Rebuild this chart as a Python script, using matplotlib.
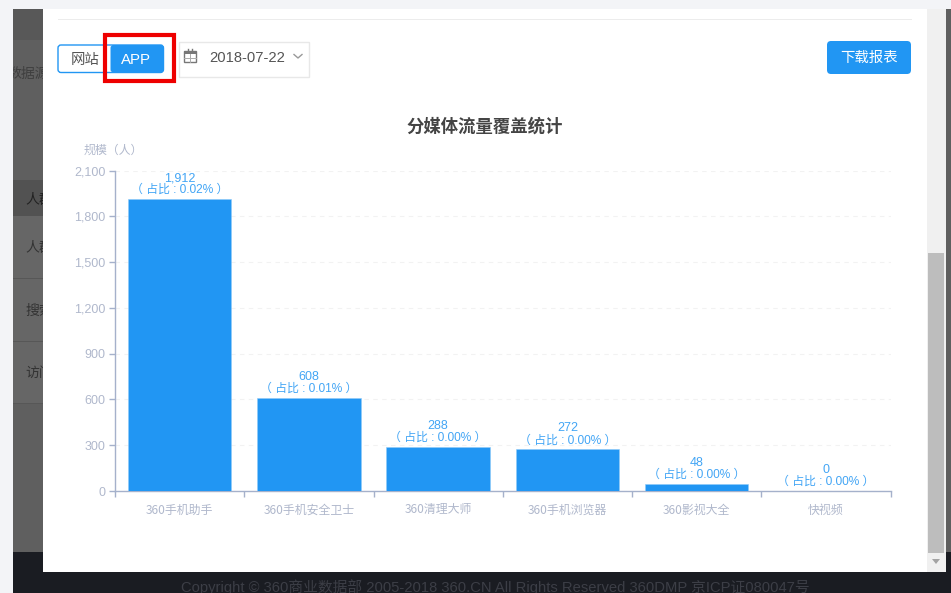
import matplotlib
matplotlib.use('Agg')
import matplotlib.pyplot as plt
from matplotlib.patches import Rectangle, FancyBboxPatch, Polygon

plt.rcParams['font.family'] = ['Noto Sans CJK SC', 'DejaVu Sans']

# data
categories = ['360手机助手', '360手机安全卫士', '360清理大师', '360手机浏览器', '360影视大全', '快视频']
values = [1912, 608, 288, 272, 48, 0]
shares = ['0.02%', '0.01%', '0.00%', '0.00%', '0.00%', '0.00%']
y_ticks = [0, 300, 600, 900, 1200, 1500, 1800, 2100]

W, H = 951, 593
BLUE = '#2196f3'
LABEL = '#42a5f5'
AXIS = '#a5b1cb'
TICK_TXT = '#b0b8cc'
LATIN_CJK = ['Liberation Sans', 'Noto Sans CJK SC']

fig = plt.figure(figsize=(W / 100, H / 100), dpi=100, facecolor='#f3f4f7')

# page behind the dialog, in pixel coordinates
bg = fig.add_axes([0, 0, 1, 1], zorder=0)
bg.set_xlim(0, W)
bg.set_ylim(H, 0)
bg.axis('off')


def box(x0, y0, x1, y1, color, z=1, **kw):
    bg.add_patch(Rectangle((x0, y0), x1 - x0, y1 - y0, facecolor=color, edgecolor='none', zorder=z, **kw))


def rbox(x0, y0, x1, y1, face, edge='none', z=5, r=3):
    bg.add_patch(FancyBboxPatch((x0 + r, y0 + r), x1 - x0 - 2 * r, y1 - y0 - 2 * r,
                                boxstyle='round,pad=%d' % r, facecolor=face, edgecolor=edge, linewidth=1, zorder=z))


# dimmed page strips
box(13, 9, 951, 552, '#5f5f5f')
box(13, 180, 43, 216, '#525252')
box(13, 216, 43, 403, '#666666')
box(13, 552, 951, 593, '#1a1c22')
box(13, 9, 43, 40, '#585858')
for yy in (278, 341, 403):
    box(13, yy, 43, yy + 1, '#575757', z=2)
for txt, yy, xx, col in [('数据源', 74, 7, '#3f3f3f'), ('人群', 200, 25, '#222222'), ('人群', 248, 25, '#333333'),
                         ('搜索', 311, 25, '#333333'), ('访问', 373, 25, '#333333')]:
    bg.text(xx, yy, txt, fontsize=10, color=col, va='center', ha='left', zorder=2)
box(0, 0, 13, H, '#f3f4f7', z=3)
bg.text(181, 587.5, 'Copyright © 360商业数据部 2005-2018 360.CN All Rights Reserved 360DMP 京ICP证080047号',
        fontsize=10.6, color='#3c3e46', va='center', ha='left', zorder=2, family=LATIN_CJK)

# dialog and scrollbar
box(43, 9, 927, 572, 'white', z=4)
box(927, 9, 946, 572, '#f0f0f0', z=4)
box(928, 253, 944, 553, '#bdbdbd', z=5)
bg.add_patch(Polygon([[932, 559], [940, 559], [936, 564]], facecolor='#a3a3a3', edgecolor='none', zorder=5))
box(58, 19, 912, 20, '#ececec', z=5)

# toolbar
rbox(58, 45, 163.5, 72.5, 'white', edge=BLUE)
rbox(110.5, 45, 163.5, 72.5, BLUE)
bg.text(85.5, 60, '网站', fontsize=10.4, color='#555555', ha='center', va='center', zorder=6)
bg.text(136, 59.5, 'APP', fontsize=10.8, color='white', ha='center', va='center', zorder=6, family=LATIN_CJK)
bg.add_patch(Rectangle((105, 35), 69, 46, facecolor='none', edgecolor='#ee0000', linewidth=3, zorder=7))
bg.add_patch(Rectangle((178.5, 41.5), 130, 35, facecolor='white', edgecolor='#e8e8e8', linewidth=1, zorder=5))
# calendar icon has no glyph in the installed fonts, so it is a small shape
bg.add_patch(Rectangle((184, 51), 12, 11, facecolor='none', edgecolor='#777777', linewidth=1, zorder=6))
box(184, 51, 196, 54, '#777777', z=6)
bg.plot([188, 188], [49, 52], color='#777777', linewidth=1, zorder=6)
bg.plot([192, 192], [49, 52], color='#777777', linewidth=1, zorder=6)
bg.plot([184, 196], [57.5, 57.5], color='#aaaaaa', linewidth=0.7, zorder=6)
bg.plot([190, 190], [54, 62], color='#aaaaaa', linewidth=0.7, zorder=6)
bg.text(247, 58.5, '2018-07-22', fontsize=10.6, color='#555555', ha='center', va='center', zorder=6,
        family=LATIN_CJK)
bg.plot([294, 298, 302], [54.5, 58, 54.5], color='#999999', linewidth=1, zorder=6)
rbox(827, 41, 911, 74, BLUE, r=4)
bg.text(869, 58, '下载报表', fontsize=10.4, color='white', ha='center', va='center', zorder=6)

# title and unit
bg.text(485, 126.5, '分媒体流量覆盖统计', fontsize=12.5, fontweight='bold', color='#444444', ha='center', va='center', zorder=6)
bg.text(113.5, 150.5, '规模（人）', fontsize=8.6, color=TICK_TXT, ha='center', va='center', zorder=6)

# the chart
ax = fig.add_axes([115 / W, 1 - 491 / H, 775.5 / W, 320.5 / H], zorder=2)
ax.patch.set_alpha(0)
x = list(range(len(categories)))
ax.bar(x, values, width=0.8, color=BLUE, edgecolor='#90caf9', linewidth=0.4, zorder=3)
ax.set_xlim(-0.5, 5.5)
ax.set_ylim(0, 2100)
ax.set_yticks(y_ticks)
ax.set_yticklabels(['{:,}'.format(v) for v in y_ticks], family=LATIN_CJK)
ax.set_xticks(x)
ax.set_xticklabels(categories)
ax.set_xticks([i - 0.5 for i in range(len(categories) + 1)], minor=True)
ax.tick_params(axis='x', which='major', length=0, pad=9, labelsize=8.6, labelcolor=TICK_TXT)
ax.tick_params(axis='x', which='minor', length=4, width=1, color=AXIS)
ax.tick_params(axis='y', length=4, width=1, color=AXIS, pad=3, labelsize=9, labelcolor=TICK_TXT)
ax.grid(axis='y', color='#f2f2f2', linestyle=(0, (4, 4)), linewidth=0.8, zorder=0)
for side in ('top', 'right'):
    ax.spines[side].set_visible(False)
for side in ('left', 'bottom'):
    ax.spines[side].set_color(AXIS)
    ax.spines[side].set_linewidth(1)

for xi, v, s in zip(x, values, shares):
    ax.annotate('{:,}'.format(v), (xi, v), xytext=(0, 15), textcoords='offset pixels', ha='center', va='bottom',
                fontsize=9, color=LABEL, family=LATIN_CJK, annotation_clip=False)
    ax.annotate('（ 占比 : %s ）' % s, (xi, v), xytext=(0, 3), textcoords='offset pixels', ha='center', va='bottom',
                fontsize=8.6, color=LABEL, family=LATIN_CJK, annotation_clip=False)

fig.savefig('out.png', dpi=100)
